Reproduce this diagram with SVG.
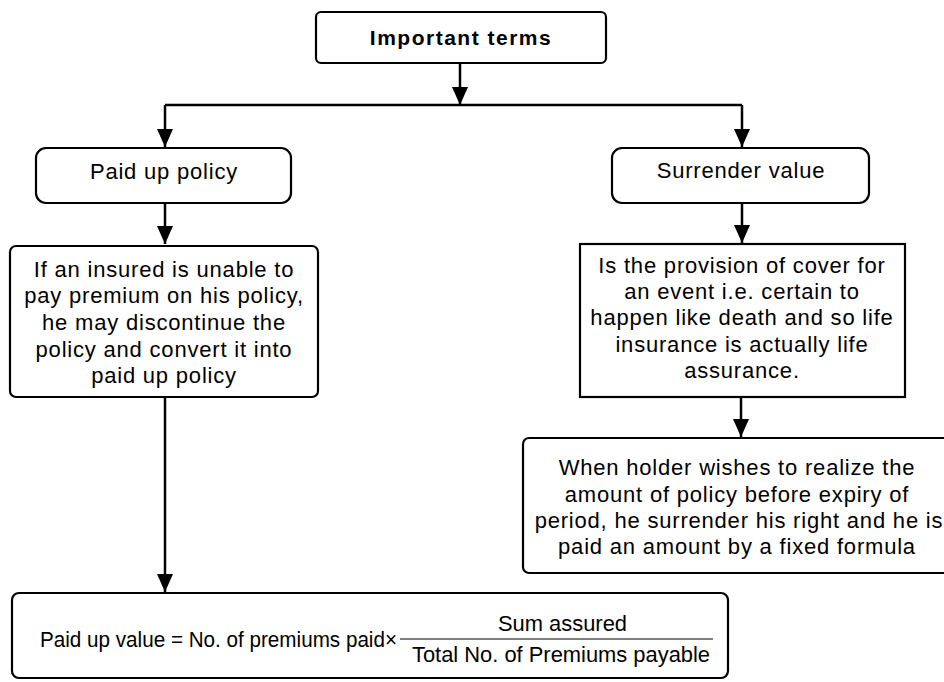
<svg xmlns="http://www.w3.org/2000/svg" width="944" height="682" viewBox="0 0 944 682">
<defs>
<marker id="ah" markerWidth="18" markerHeight="16" refX="18" refY="8" orient="auto" markerUnits="userSpaceOnUse" viewBox="0 0 18 16">
<path d="M0,0 L18,8 L0,16 Z" fill="#000"/>
</marker>
<style>
.box{fill:#fff;stroke:#000;stroke-width:2.2}
.t{font-family:"Liberation Sans",Arial,sans-serif;font-size:22px;letter-spacing:0.8px;fill:#000;text-anchor:middle}
.b{font-family:"Liberation Sans",Arial,sans-serif;font-size:21px;font-weight:bold;letter-spacing:1.5px;fill:#000;text-anchor:middle}
.f{font-family:"Liberation Sans",Arial,sans-serif;font-size:22px;fill:#000}
.c{fill:none;stroke:#000;stroke-width:2.5}
.ca{fill:none;stroke:#000;stroke-width:2.5;marker-end:url(#ah)}
</style>
</defs>
<rect width="944" height="682" fill="#fff"/>
<g id="connectors">
<path class="ca" d="M460,63 V105"/>
<path class="c" d="M165,105 H742"/>
<path class="ca" d="M165,105 V147"/>
<path class="ca" d="M742,105 V147"/>
<path class="ca" d="M165,203 V244"/>
<path class="ca" d="M742,203 V243"/>
<path class="ca" d="M165,397 V592"/>
<path class="ca" d="M741,397 V437"/>
</g>
<g id="important-terms">
<rect class="box" x="316" y="12" width="290" height="51" rx="5"/>
<text class="b" x="461" y="45">Important terms</text>
</g>
<g id="paid-up-policy">
<rect class="box" x="36" y="148" width="255" height="55" rx="10"/>
<text class="t" x="164" y="179">Paid up policy</text>
</g>
<g id="surrender-value">
<rect class="box" x="612" y="148" width="257" height="55" rx="10"/>
<text class="t" x="741" y="178">Surrender value</text>
</g>
<g id="paid-up-desc">
<rect class="box" x="10" y="246" width="308" height="151" rx="6"/>
<text class="t" x="164" y="277">If an insured is unable to</text>
<text class="t" x="164" y="303">pay premium on his policy,</text>
<text class="t" x="164" y="330">he may discontinue the</text>
<text class="t" x="164" y="357">policy and convert it into</text>
<text class="t" x="164" y="383">paid up policy</text>
</g>
<g id="surrender-desc">
<rect class="box" x="580" y="244" width="325" height="153"/>
<text class="t" x="742" y="273">Is the provision of cover for</text>
<text class="t" x="742" y="299">an event i.e. certain to</text>
<text class="t" x="742" y="325">happen like death and so life</text>
<text class="t" x="742" y="352">insurance is actually life</text>
<text class="t" x="742" y="378">assurance.</text>
</g>
<g id="surrender-detail">
<rect class="box" x="523" y="438" width="432" height="135" rx="6"/>
<text class="t" x="737" y="475">When holder wishes to realize the</text>
<text class="t" x="737" y="502">amount of policy before expiry of</text>
<text class="t" x="739" y="528">period, he surrender his right and he is</text>
<text class="t" x="737" y="554">paid an amount by a fixed formula</text>
</g>
<g id="formula">
<rect class="box" x="12" y="593" width="716" height="85" rx="7"/>
<text class="f" x="40" y="647" textLength="357" lengthAdjust="spacingAndGlyphs">Paid up value = No. of premiums paid×</text>
<line x1="400" y1="639" x2="713" y2="639" stroke="#000" stroke-width="1.2"/>
<text class="f" x="498" y="631" textLength="129" lengthAdjust="spacingAndGlyphs">Sum assured</text>
<text class="f" x="412" y="662" textLength="298" lengthAdjust="spacingAndGlyphs">Total No. of Premiums payable</text>
</g>
</svg>
